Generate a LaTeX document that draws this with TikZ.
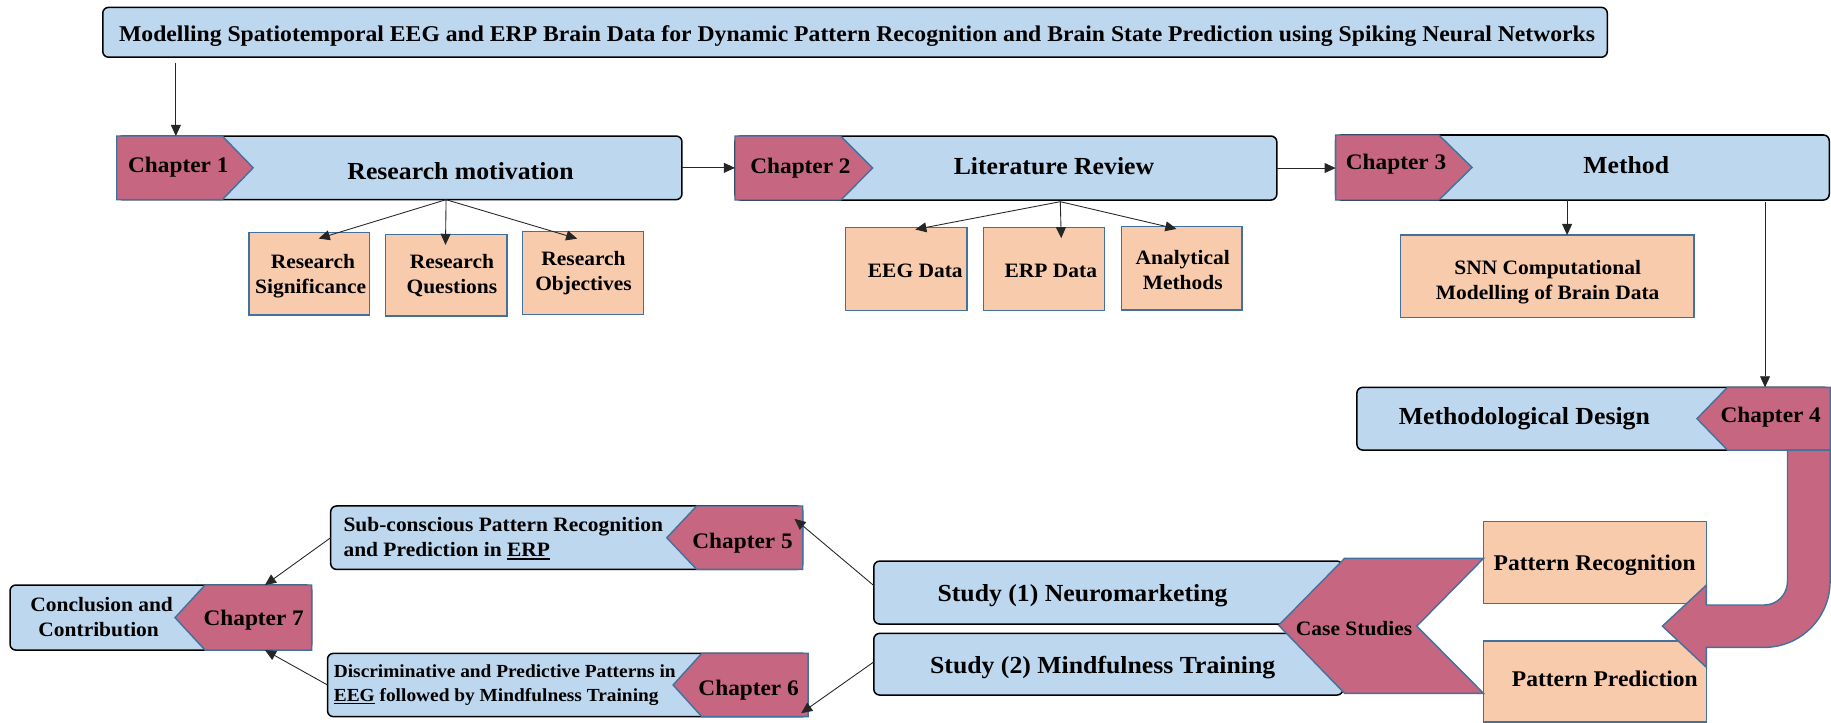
\documentclass[tikz,border=0pt]{standalone}
\usepackage{fontspec}
\setmainfont{Liberation Serif}[FakeStretch=1.05]
\usetikzlibrary{arrows.meta,fit,calc}
\definecolor{boxblue}{RGB}{189,215,238}
\definecolor{boxpeach}{RGB}{248,203,173}
\definecolor{tagpink}{RGB}{198,102,128}
\definecolor{edgeblue}{RGB}{65,113,156}
% thick underline placed just below the baseline
\newcommand\ulthick[1]{\setbox0\hbox{#1}\rlap{\rule[-2.8pt]{\wd0}{1.5pt}}\box0\relax}
\begin{document}
\begin{tikzpicture}[x=1pt,y=-1pt,
  panel/.style={draw=black, line width=1.3pt, fill=boxblue, rounded corners=5pt, inner sep=0pt, outer sep=0pt},
  topic/.style={draw=edgeblue, line width=1.2pt, fill=boxpeach, inner sep=0pt, outer sep=0pt},
  tag/.style={draw=edgeblue, line width=1.2pt, fill=tagpink, line join=miter},
  lbl/.style={inner sep=0pt, anchor=base, text=black},
  headfont/.style={lbl, font=\bfseries\fontsize{19.3}{23}\selectfont},
  big/.style={lbl, font=\bfseries\fontsize{21}{25}\selectfont},
  chap/.style={lbl, font=\bfseries\fontsize{19}{23}\selectfont},
  mid/.style={lbl, font=\bfseries\fontsize{19.2}{23}\selectfont},
  small/.style={lbl, font=\bfseries\fontsize{17.5}{21}\selectfont},
  tiny/.style={lbl, font=\bfseries\fontsize{15.8}{19}\selectfont},
  link/.style={draw=black!85, line width=0.75pt, -{Triangle[length=9.5pt,width=8.5pt]}},
]
\useasboundingbox (0,0) rectangle (1568,619);

% ---------- blue panels ----------
\node[panel, fit={(88,6.3) (1376.4,49)}] (title) {};
\node[panel, fit={(100,116.5) (584,171)}] (rm) {};
\node[panel, fit={(629.4,116.5) (1093.4,171.3)}] (lr) {};
\node[panel, fit={(1143.8,115.6) (1566.5,171.3)}] (me) {};
\node[panel, fit={(1162,331.7) (1567,385.4)}] (md) {};
\node[panel, fit={(748.3,480.5) (1150,534.4)}] (st1) {};
\node[panel, fit={(748.3,542.4) (1150,595.2)}] (st2) {};
\node[panel, fit={(283.2,433.3) (687.4,487.6)}] (c5) {};
\node[panel, fit={(280.5,559.5) (692.1,613.7)}] (c6) {};
\node[panel, fit={(8.6,501) (266.9,556.7)}] (c7) {};

% ---------- peach topic boxes ----------
\node[topic, fit={(213.3,199.3) (316.5,269.8)}] (sig) {};
\node[topic, fit={(330,200.7) (434,270.6)}] (que) {};
\node[topic, fit={(447.3,198.4) (550.9,269.2)}] (obj) {};
\node[topic, fit={(724.2,195) (828.2,266)}] (eeg) {};
\node[topic, fit={(842.4,195) (946,266)}] (erp) {};
\node[topic, fit={(960.2,194.1) (1063.5,265.5)}] (anal) {};
\node[topic, fit={(1199.4,201.3) (1450.6,271.8)}] (snn) {};
\node[topic, fit={(1270.5,446.7) (1461.3,516.7)}] (pr) {};
\node[topic, fit={(1270.5,549) (1461.3,618.4)}] (pp) {};

% ---------- chapter tags ----------
\draw[tag] (100,116.5) -- (190.4,116.5) -- (216.8,143.7) -- (190.4,171) -- (100,171) -- cycle;
\draw[tag] (629.4,116.5) -- (720,116.5) -- (747.3,143.9) -- (720,171.3) -- (629.4,171.3) -- cycle;
\draw[tag] (1143.8,115.6) -- (1232.2,115.6) -- (1260.6,143.4) -- (1232.2,171.3) -- (1143.8,171.3) -- cycle;
\draw[tag] (1567.4,331.7) -- (1479.3,331.7) -- (1453.2,358.5) -- (1479.3,385.4) -- (1567.4,385.4) -- cycle;
\draw[tag] (687.4,433.3) -- (596.6,433.3) -- (571,460.5) -- (596.6,487.6) -- (687.4,487.6) -- cycle;
\draw[tag] (692.1,559.5) -- (601,559.5) -- (576.4,586.6) -- (601,613.7) -- (692.1,613.7) -- cycle;
\draw[tag] (266.9,501) -- (175.6,501) -- (149.9,528.9) -- (175.6,556.7) -- (266.9,556.7) -- cycle;
% case studies chevron
\draw[tag] (1151.5,478.1) -- (1270.5,478.1) -- (1213.3,536.2) -- (1270.5,593.8) -- (1151.5,593.8) -- (1095,535.5) -- cycle;

% ---------- bent arrow from chapter 4 ----------
\draw[tag] (1530.7,385.4) -- (1530.7,498.1) arc[start angle=0,end angle=90,radius=20]
  -- (1461.3,518.1) -- (1461.3,501) -- (1423.6,536.2) -- (1461.3,571.5) -- (1461.3,554.4)
  -- (1510.7,554.4) arc[start angle=90,end angle=0,radius=56.5] -- (1567.2,385.4) -- cycle;

% ---------- texts ----------
\node[headfont] (ttl) at (734,35.7) {Modelling Spatiotemporal EEG and ERP Brain Data for Dynamic Pattern Recognition and Brain State Prediction using Spiking Neural Networks};

\node[chap] (t1) at (152.7,148) {Chapter 1};
\node[big] (trm) at (394.4,154) {Research motivation};
\node[chap] (t2) at (685.5,149) {Chapter 2};
\node[big] (tlr) at (902.6,149.3) {Literature Review};
\node[chap] (t3) at (1195.5,144.8) {Chapter 3};
\node[big] (tme) at (1392.6,148.5) {Method};
\node[chap] (t4) at (1516.4,362.2) {Chapter 4};
\node[big] (tmd) at (1305.4,363.8) {Methodological Design};

\node[small] (tsig1) at (268,229.8) {Research};
\node[small] (tsig2) at (266,251.2) {Significance};
\node[small] (tque1) at (387,229.8) {Research};
\node[small] (tque2) at (387,251.2) {Questions};
\node[small] (tobj1) at (499.7,227.6) {Research};
\node[small] (tobj2) at (499.7,249) {Objectives};

\node[small] (teeg) at (783.8,237.6) {EEG Data};
\node[small] (terp) at (899.9,237.6) {ERP Data};
\node[small] (tan1) at (1012.8,226.5) {Analytical};
\node[small] (tan2) at (1012.8,247.9) {Methods};

\node[small] (tsnn1) at (1325.4,235) {SNN Computational};
\node[small] (tsnn2) at (1325.4,256.4) {Modelling of Brain Data};

\node[mid] (tpr) at (1365.6,488.8) {Pattern Recognition};
\node[mid] (tpp) at (1374.3,588.2) {Pattern Prediction};
\node[small] (tcs) at (1159.6,543.8) {Case Studies};

\node[big] (tst1) at (927,515) {Study (1) Neuromarketing};
\node[big] (tst2) at (944.3,576.4) {Study (2) Mindfulness Training};

\node[chap] (t5) at (635.9,470) {Chapter 5};
\node[small, anchor=base west] (tc5a) at (294,455.4) {Sub-conscious Pattern Recognition};
\node[small, anchor=base west] (tc5b) at (294,476.8) {and Prediction in \ulthick{ERP}};

\node[chap] (t6) at (641.1,595.8) {Chapter 6};
\node[tiny, anchor=base west] (tc6a) at (285.7,580.4) {Discriminative and Predictive Patterns in};
\node[tiny, anchor=base west] (tc6b) at (285.7,600.4) {\ulthick{EEG} followed by Mindfulness Training};

\node[chap] (t7) at (217.3,535.8) {Chapter 7};
\node[small] (tc7a) at (87.1,523.9) {Conclusion and};
\node[small] (tc7b) at (84.5,545.3) {Contribution};

% ---------- connectors ----------
\draw[link] ($(title.south west)+(62.6,5)$) -- ($(rm.north west)+(50.6,0)$);
\draw[link] (rm.east) -- (rm.east -| lr.west);
\draw[link] (lr.east) -- (lr.east -| me.west);

\draw[link] ($(rm.south)+(40,0)$) -- ($(sig.north)+(8,5)$);
\draw[link] ($(rm.south)+(40,0)$) -- ($(que.north)+(-0.5,9)$);
\draw[link] ($(rm.south)+(40,0)$) -- ($(obj.north)+(-4.8,6)$);

\draw[link] ($(lr.south)+(46.6,1.4)$) -- ($(eeg.north)+(7.6,1.5)$);
\draw[link] ($(lr.south)+(46.6,1.4)$) -- ($(erp.north)+(14.6,9)$);
\draw[link] ($(lr.south)+(46.6,1.4)$) -- ($(anal.north)+(-4.4,1.9)$);

\draw[link] ($(snn.north |- me.south)+(17,0)$) -- ($(snn.north)+(17,0)$);
\draw[link] ($(md.north |- me.south)+(147,2)$) -- ($(md.north)+(147,0)$);

\draw[link] ($(st1.west)+(0,-6)$) -- ($(c5.north east)+(-7,11)$);
\draw[link] ($(st2.west)+(0,-2)$) -- ($(c6.south east)+(-6,-3)$);
\draw[link] (c5.west) -- ($(c7.north east)+(-40,0)$);
\draw[link] (c6.west) -- ($(c7.south east)+(-40,0)$);
\end{tikzpicture}
\end{document}
